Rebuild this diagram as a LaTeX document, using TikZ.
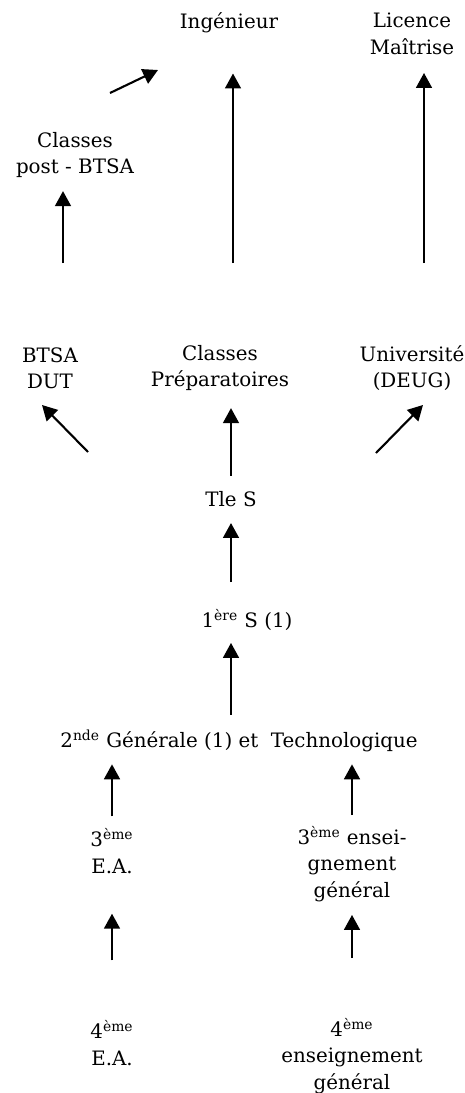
\documentclass[tikz,border=0pt]{standalone}
\usepackage{fontspec}
\setmainfont{DejaVu Serif}
\usetikzlibrary{arrows.meta}
\tikzset{
  lbl/.style={font=\fontsize{11.3}{15}\selectfont, align=center, inner sep=0pt},
  arr/.style={-{Triangle[length=8.5pt,width=9pt]}, line width=1.2pt},
}
\begin{document}
\begin{tikzpicture}[x=0.02cm,y=-0.02cm]
\useasboundingbox (0,0) rectangle (465,1093);

\node[lbl] (ing) at (229,23) {Ingénieur};
\node[lbl] (lic) at (412,34) {Licence\\Maîtrise};
\node[lbl] (post) at (75,155) {Classes\\post - BTSA};

\node[lbl] (btsa) at (50,368) {BTSA\\DUT};
\node[lbl] (prep) at (220,368) {Classes\\Préparatoires};
\node[lbl] (univ) at (412,368) {Université\\(DEUG)};
\node[lbl] (tle) at (231,499) {Tle S};
\node[lbl] (prem) at (247,620) {1\textsuperscript{ère} S (1)};
\node[lbl] (snde) at (239,741) {2\textsuperscript{nde} Générale (1) et~ Technologique};

\node[lbl] (ea3) at (112,851) {3\textsuperscript{ème}\\E.A.};
\node[lbl] (eg3) at (352,864) {3\textsuperscript{ème} ensei-\\gnement\\général};
\node[lbl] (ea4) at (112,1043) {4\textsuperscript{ème}\\E.A.};
\node[lbl] (eg4) at (352,1056) {4\textsuperscript{ème}\\enseignement\\général};

\coordinate (p1) at (63,263);
\coordinate (p2) at (233,263);
\coordinate (p3) at (424,263);
\coordinate (d1) at (88,452);
\coordinate (d1h) at (42,405);
\coordinate (d2) at (376,453);
\coordinate (d2h) at (423,405);
\coordinate (d3) at (110,93);
\coordinate (d3h) at (158,70);

\draw[arr,shorten <=1.2cm,shorten >=0.8cm] (ea4) -- (ea3);
\draw[arr,shorten <=1.2cm,shorten >=0.26cm] (eg4) -- (eg3);
\draw[arr,shorten <=0.24cm,shorten >=0.24cm] (ea3.north) -- (ea3 |- snde.south);
\draw[arr,shorten <=0.22cm,shorten >=0.24cm] (eg3.north) -- (eg3 |- snde.south);
\draw[arr,shorten <=0.3cm,shorten >=0.24cm] (tle |- snde.north) -- (tle |- prem.south);
\draw[arr,shorten <=0.54cm,shorten >=0.32cm] (tle |- prem.north) -- (tle.south);
\draw[arr,shorten <=0.3cm,shorten >=0.34cm] (tle.north) -- (tle |- prep.south);

\draw[arr] (d1) -- (d1h);
\draw[arr] (d2) -- (d2h);
\draw[arr] (d3) -- (d3h);

\draw[arr,shorten >=0.26cm] (p1) -- (p1 |- post.south);
\draw[arr,shorten >=0.8cm] (p2) -- (p2 |- ing.south);
\draw[arr,shorten >=0.36cm] (p3) -- (p3 |- lic.south);
\end{tikzpicture}
\end{document}
